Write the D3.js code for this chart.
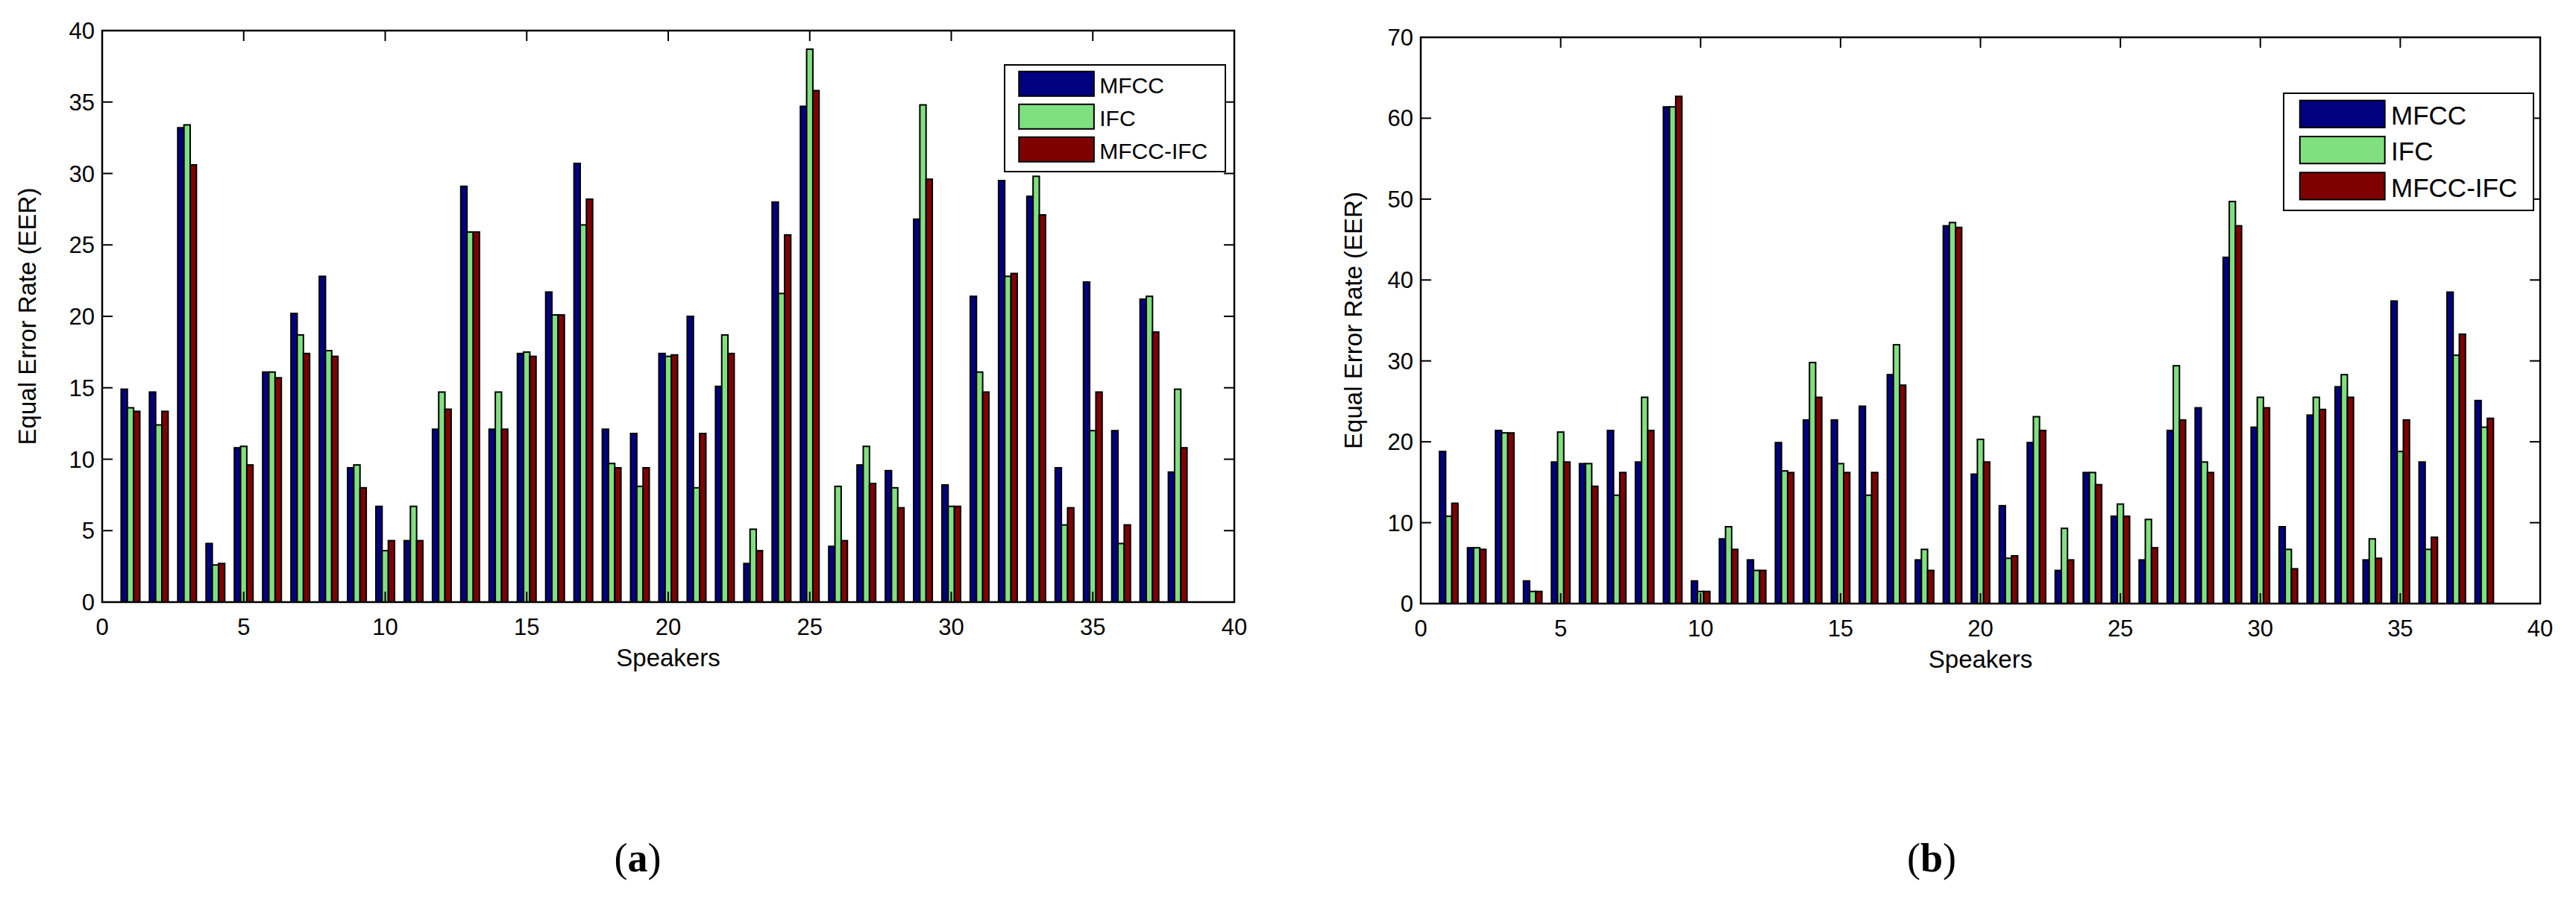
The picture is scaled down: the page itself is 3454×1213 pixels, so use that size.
<!DOCTYPE html>
<html>
<head>
<meta charset="utf-8">
<script src="https://cdn.jsdelivr.net/npm/d3@7"></script>
<style>
body { margin: 0; background: #fff; }
text { font-family: "Liberation Sans", Arial, sans-serif; }
</style>
</head>
<body>
<svg id="canva" width="3454" height="1213"></svg>
<script>
const series = ['MFCC', 'IFC', 'MFCC-IFC'];
const colors = ['#000080', '#80e080', '#800000'];
const speakers = d3.range(1, 39);

// chart (a)
const mfccA = [14.9, 14.7, 33.2, 4.1, 10.8, 16.1, 20.2, 22.8, 9.4, 6.7, 4.3, 12.1, 29.1, 12.1, 17.4, 21.7, 30.7, 12.1, 11.8, 17.4,
    20.0, 15.1, 2.7, 28.0, 34.7, 3.9, 9.6, 9.2, 26.8, 8.2, 21.4, 29.5, 28.4, 9.4, 22.4, 12.0, 21.2, 9.1];
const ifcA = [13.6, 12.4, 33.4, 2.6, 10.9, 16.1, 18.7, 17.6, 9.6, 3.6, 6.7, 14.7, 25.9, 14.7, 17.5, 20.1, 26.4, 9.7, 8.1, 17.2,
    8.0, 18.7, 5.1, 21.6, 38.7, 8.1, 10.9, 8.0, 34.8, 6.7, 16.1, 22.8, 29.8, 5.4, 12.0, 4.1, 21.4, 14.9];
const mixA = [13.35, 13.35, 30.6, 2.7, 9.6, 15.7, 17.4, 17.2, 8.0, 4.3, 4.3, 13.5, 25.9, 12.1, 17.2, 20.1, 28.2, 9.4, 9.4, 17.3,
    11.8, 17.4, 3.6, 25.7, 35.8, 4.3, 8.3, 6.6, 29.6, 6.7, 14.7, 23.0, 27.1, 6.6, 14.7, 5.4, 18.9, 10.8];

// chart (b)
const mfccB = [18.8, 6.9, 21.4, 2.8, 17.5, 17.3, 21.4, 17.5, 61.4, 2.8, 8.0, 5.4, 19.9, 22.7, 22.7, 24.4, 28.3, 5.4, 46.7, 16.0,
    12.1, 19.9, 4.1, 16.2, 10.8, 5.4, 21.4, 24.2, 42.8, 21.8, 9.5, 23.3, 26.8, 5.4, 37.4, 17.5, 38.5, 25.1];
const ifcB = [10.8, 6.9, 21.1, 1.5, 21.2, 17.3, 13.4, 25.5, 61.4, 1.5, 9.5, 4.1, 16.4, 29.8, 17.3, 13.4, 32.0, 6.7, 47.1, 20.3,
    5.6, 23.1, 9.3, 16.2, 12.3, 10.4, 29.4, 17.5, 49.7, 25.5, 6.7, 25.5, 28.3, 8.0, 18.8, 6.7, 30.7, 21.8];
const mixB = [12.4, 6.7, 21.1, 1.5, 17.5, 14.5, 16.2, 21.4, 62.7, 1.5, 6.7, 4.1, 16.2, 25.5, 16.2, 16.2, 27.0, 4.1, 46.5, 17.5,
    5.9, 21.4, 5.4, 14.7, 10.8, 6.9, 22.7, 16.2, 46.7, 24.2, 4.3, 24.0, 25.5, 5.6, 22.7, 8.2, 33.3, 22.9];

const xTicks = [0, 5, 10, 15, 20, 25, 30, 35, 40];
const yTicksA = [0, 5, 10, 15, 20, 25, 30, 35, 40];
const yTicksB = [0, 10, 20, 30, 40, 50, 60, 70];

const svg = d3.select('#canva');

function drawChart(cfg) {
    const x = d3.scaleLinear().domain([0, 40]).range([cfg.left, cfg.right]);
    const y = d3.scaleLinear().domain([0, cfg.ymax]).range([cfg.bottom, cfg.top]);
    const g = svg.append('g');
    const bw = x(0.22) - x(0);

    cfg.data.forEach((vals, s) => {
        g.selectAll('.bar' + s)
            .data(vals)
            .enter()
            .append('rect')
            .attr('x', (d, i) => x(speakers[i] + (s - 1) * 0.22) - bw / 2)
            .attr('y', d => y(d))
            .attr('width', bw)
            .attr('height', d => y(0) - y(d))
            .attr('fill', colors[s])
            .attr('stroke', '#000')
            .attr('stroke-width', 2);
    });

    // box
    g.append('rect')
        .attr('x', cfg.left).attr('y', cfg.top)
        .attr('width', cfg.right - cfg.left).attr('height', cfg.bottom - cfg.top)
        .attr('fill', 'none').attr('stroke', '#000').attr('stroke-width', 2.5);

    const tl = 14;
    // x ticks (inward, bottom and top)
    xTicks.forEach(t => {
        g.append('line').attr('x1', x(t)).attr('x2', x(t)).attr('y1', cfg.bottom).attr('y2', cfg.bottom - tl)
            .attr('stroke', '#000').attr('stroke-width', 2);
        g.append('line').attr('x1', x(t)).attr('x2', x(t)).attr('y1', cfg.top).attr('y2', cfg.top + tl)
            .attr('stroke', '#000').attr('stroke-width', 2);
        g.append('text').attr('x', x(t)).attr('y', cfg.bottom + 44)
            .attr('text-anchor', 'middle').attr('font-size', 31).attr('fill', '#000').text(t);
    });
    cfg.yTicks.forEach(t => {
        g.append('line').attr('x1', cfg.left).attr('x2', cfg.left + tl).attr('y1', y(t)).attr('y2', y(t))
            .attr('stroke', '#000').attr('stroke-width', 2);
        g.append('line').attr('x1', cfg.right).attr('x2', cfg.right - tl).attr('y1', y(t)).attr('y2', y(t))
            .attr('stroke', '#000').attr('stroke-width', 2);
        g.append('text').attr('x', cfg.left - 10).attr('y', y(t) + 11)
            .attr('text-anchor', 'end').attr('font-size', 31).attr('fill', '#000').text(t);
    });

    g.append('text').attr('x', (cfg.left + cfg.right) / 2).attr('y', cfg.bottom + 86)
        .attr('text-anchor', 'middle').attr('font-size', 33).text('Speakers');
    g.append('text')
        .attr('transform', `translate(${cfg.ylabX},${(cfg.top + cfg.bottom) / 2}) rotate(-90)`)
        .attr('text-anchor', 'middle').attr('font-size', 33).text('Equal Error Rate (EER)');

    // legend
    const L = cfg.legend;
    g.append('rect').attr('x', L.x).attr('y', L.y).attr('width', L.w).attr('height', L.h)
        .attr('fill', '#fff').attr('stroke', '#000').attr('stroke-width', 2);
    const rowH = L.h / 3.25;
    series.forEach((name, s) => {
        const ry = L.y + rowH * 0.15 + s * rowH;
        g.append('rect').attr('x', L.x + L.w * 0.065).attr('y', ry + rowH * 0.05)
            .attr('width', L.w * 0.34).attr('height', rowH * 0.75)
            .attr('fill', colors[s]).attr('stroke', '#000').attr('stroke-width', 2);
        g.append('text').attr('x', L.x + L.w * 0.43).attr('y', ry + rowH * 0.72)
            .attr('font-size', L.fs).text(name);
    });

    svg.append('text').attr('x', cfg.capX).attr('y', 1168).attr('text-anchor', 'middle')
        .style('font-family', '"Liberation Serif", "Times New Roman", serif')
        .attr('font-size', 54)
        .html('(<tspan font-weight="bold">' + cfg.cap + '</tspan>)');
}

drawChart({
    left: 137, right: 1655, top: 41, bottom: 807, ymax: 40, yTicks: yTicksA,
    data: [mfccA, ifcA, mixA], ylabX: 48, capX: 855, cap: 'a',
    legend: {x: 1347, y: 87, w: 296, h: 143, fs: 30}
});
drawChart({
    left: 1905, right: 3406, top: 50, bottom: 809, ymax: 70, yTicks: yTicksB,
    data: [mfccB, ifcB, mixB], ylabX: 1826, capX: 2590, cap: 'b',
    legend: {x: 3062, y: 125, w: 335, h: 157, fs: 35}
});
</script>
</body>
</html>
